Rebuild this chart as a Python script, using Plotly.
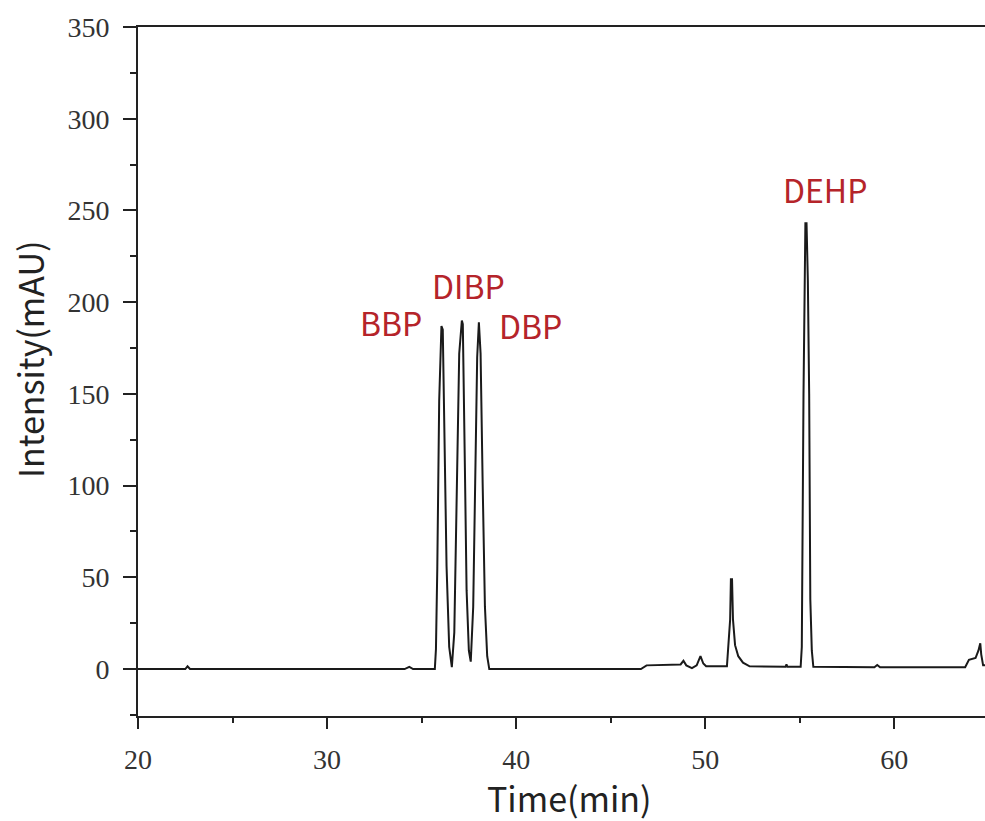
import plotly.graph_objects as go

# Chromatogram (time in min, intensity in mAU)
time_min = [
    20.0, 22.5, 22.62, 22.75, 34.1, 34.35, 34.55, 35.6,
    35.70, 35.76, 35.83, 35.93, 36.05, 36.12, 36.22, 36.32, 36.46, 36.60,
    36.73, 36.85, 36.99, 37.13, 37.18, 37.29, 37.38, 37.50, 37.60,
    37.73, 37.84, 37.94, 38.03, 38.12, 38.23, 38.35, 38.47, 38.58,
    46.6, 46.9, 48.7, 48.85, 49.0, 49.3, 49.55, 49.75, 49.9, 50.05,
    51.15, 51.22, 51.32, 51.36, 51.42, 51.47, 51.58, 51.75, 52.0, 52.35,
    54.25, 54.3, 54.35, 55.05, 55.11, 55.20, 55.30, 55.36, 55.43, 55.50,
    55.56, 55.64, 55.72, 58.95, 59.1, 59.25,
    63.75, 63.95, 64.3, 64.45, 64.55, 64.6, 64.7, 64.8,
]
intensity = [
    0, 0, 1.5, 0, 0, 1.2, 0, 0,
    0, 11, 55, 146, 187, 185, 130, 56, 12, 1,
    20, 81, 172, 190, 188, 110, 43, 10, 4,
    34, 114, 170, 189, 172, 101, 34, 7, 0,
    0, 2, 2.5, 4.5, 2, 0.5, 2, 7, 3, 1.5,
    1.5, 10, 27, 49, 49, 27, 13, 7, 3.5, 1.5,
    1.2, 2.5, 1.2, 1.2, 12, 150, 243, 243, 212, 150,
    38, 10, 1.2, 1.0, 2.2, 1.0,
    1.0, 5, 6, 10, 14, 8, 2, 2,
]

peak_names = ["BBP", "DIBP", "DBP", "DEHP"]
label_x = [33.39, 37.46, 40.74, 56.35]
label_y = [189.0, 209.5, 187.5, 261.5]

x_tick_vals = [20, 30, 40, 50, 60]
y_tick_vals = [0, 50, 100, 150, 200, 250, 300, 350]
x_title = "Time(min)"
y_title = "Intensity(mAU)"

fig = go.Figure()
fig.add_trace(go.Scatter(
    x=time_min, y=intensity, mode="lines",
    line=dict(color="#1a1a1a", width=2),
    showlegend=False, hoverinfo="skip",
))

for name, lx, ly in zip(peak_names, label_x, label_y):
    fig.add_annotation(
        x=lx, y=ly, text=name, showarrow=False,
        xanchor="center", yanchor="middle",
        font=dict(family="Noto Sans CJK SC", size=32, color="#b5242a"),
    )

title_font = dict(family="Noto Sans CJK SC", size=34, color="#222222")
fig.add_annotation(
    xref="paper", yref="paper", x=0.509, y=-0.118, text=x_title,
    showarrow=False, xanchor="center", yanchor="middle", font=title_font,
)
fig.add_annotation(
    xref="paper", yref="paper", x=-0.1275, y=0.5167, text=y_title, textangle=-90,
    showarrow=False, xanchor="center", yanchor="middle", font=title_font,
)

tick_font = dict(family="Liberation Serif", size=28, color="#333333")

fig.update_layout(
    width=985, height=821,
    margin=dict(l=138, r=0, t=27, b=105, autoexpand=False),
    paper_bgcolor="white", plot_bgcolor="white",
    xaxis=dict(
        range=[20, 64.8], tickvals=x_tick_vals, automargin=False,
        ticks="outside", ticklen=11, tickwidth=2, tickcolor="#222",
        showline=True, linecolor="#222", linewidth=2, mirror=True,
        showgrid=False, zeroline=False,
        minor=dict(dtick=5, tick0=20, ticks="outside", ticklen=5, tickwidth=2, tickcolor="#222"),
        tickfont=tick_font, ticklabelstandoff=6,
    ),
    yaxis=dict(
        range=[-25.6, 350], tickvals=y_tick_vals, automargin=False,
        ticks="outside", ticklen=13, tickwidth=2, tickcolor="#222",
        showline=True, linecolor="#222", linewidth=2,
        showgrid=False, zeroline=False,
        minor=dict(dtick=25, tick0=0, ticks="outside", ticklen=6, tickwidth=2, tickcolor="#222"),
        tickfont=tick_font, ticklabelstandoff=8,
    ),
)

fig.write_html(
    "out.html",
    config={"displayModeBar": False},
    post_script="document.body.style.margin='0';document.body.style.overflow='hidden';",
)
